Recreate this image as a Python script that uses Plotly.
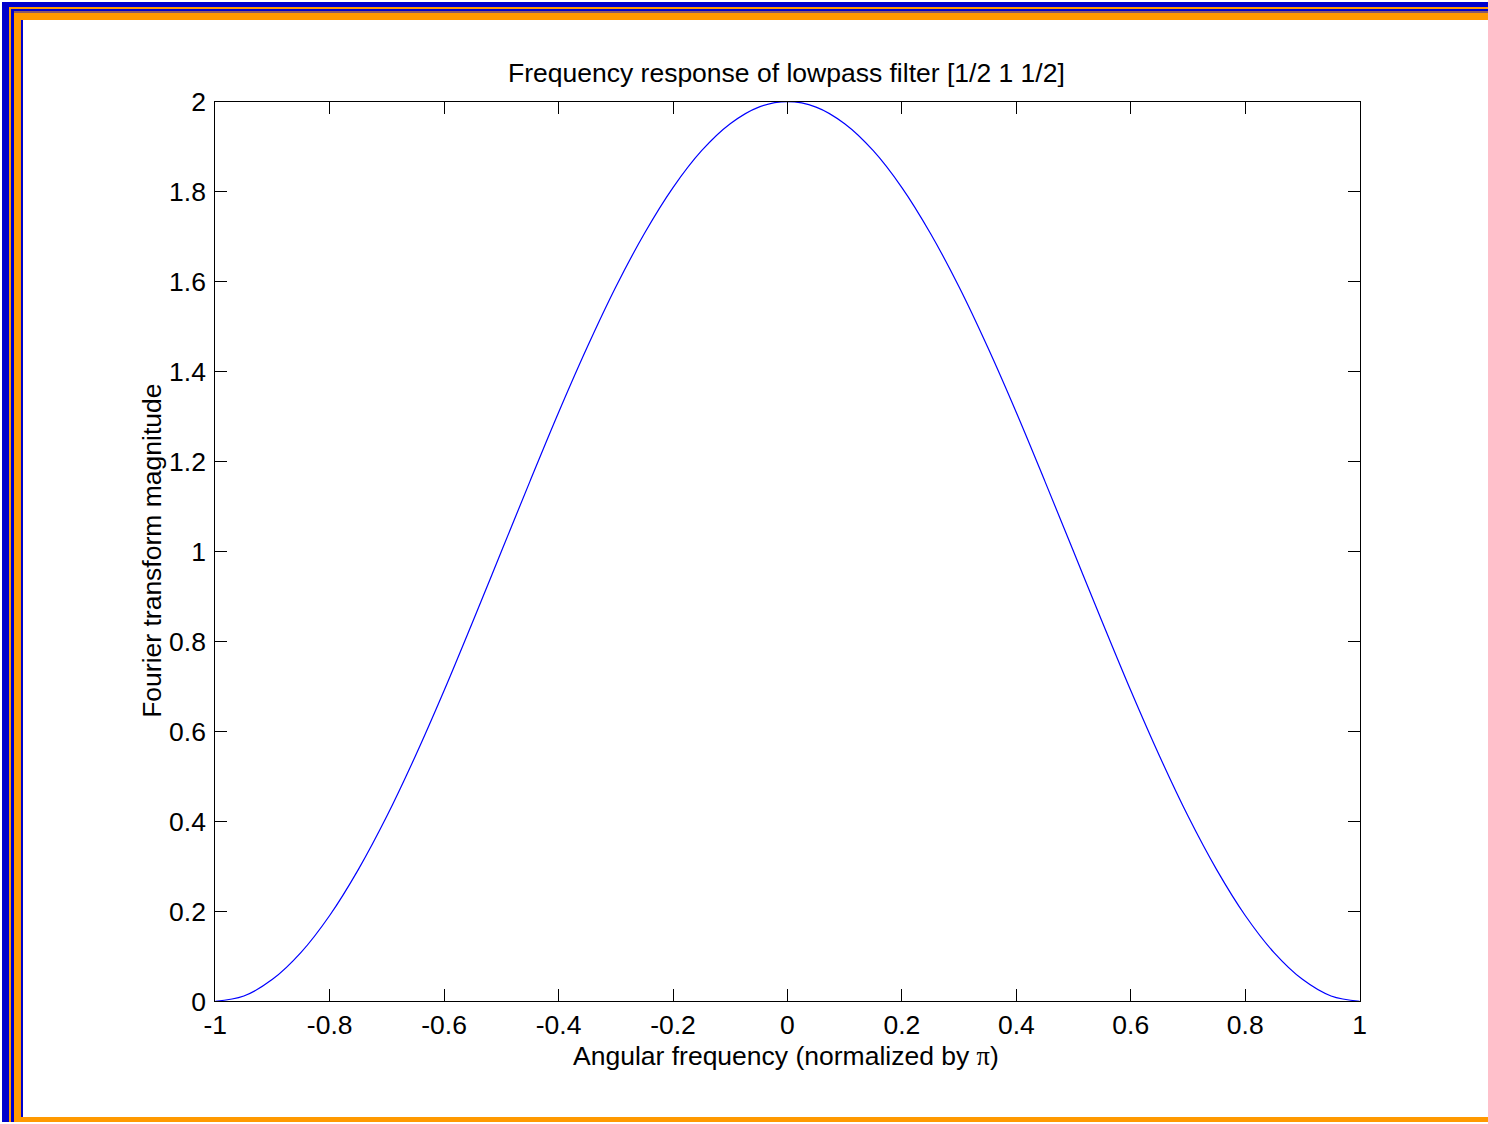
import plotly.graph_objects as go

# Data
freq = [-1.00, -0.95, -0.90, -0.85, -0.80, -0.75, -0.70, -0.65, -0.60, -0.55,
        -0.50, -0.45, -0.40, -0.35, -0.30, -0.25, -0.20, -0.15, -0.10, -0.05,
        0.00, 0.05, 0.10, 0.15, 0.20, 0.25, 0.30, 0.35, 0.40, 0.45,
        0.50, 0.55, 0.60, 0.65, 0.70, 0.75, 0.80, 0.85, 0.90, 0.95, 1.00]
magnitude = [0.000, 0.012, 0.049, 0.109, 0.191, 0.293, 0.412, 0.546, 0.691, 0.844,
             1.000, 1.156, 1.309, 1.454, 1.588, 1.707, 1.809, 1.891, 1.951, 1.988,
             2.000, 1.988, 1.951, 1.891, 1.809, 1.707, 1.588, 1.454, 1.309, 1.156,
             1.000, 0.844, 0.691, 0.546, 0.412, 0.293, 0.191, 0.109, 0.049, 0.012, 0.000]
x_ticks = [-1, -0.8, -0.6, -0.4, -0.2, 0, 0.2, 0.4, 0.6, 0.8, 1]
x_tick_labels = ["-1", "-0.8", "-0.6", "-0.4", "-0.2", "0", "0.2", "0.4", "0.6", "0.8", "1"]
y_ticks = [0, 0.2, 0.4, 0.6, 0.8, 1, 1.2, 1.4, 1.6, 1.8, 2]
y_tick_labels = ["0", "0.2", "0.4", "0.6", "0.8", "1", "1.2", "1.4", "1.6", "1.8", "2"]

W, H = 1488, 1124
FONT = "Liberation Sans, Arial, sans-serif"
FS = 26.5
BLUE = "#0000cc"
ORANGE = "#ff9900"

# The figure is drawn into a box of about 1471x1098 starting at (10, 13) of the page;
# these helpers convert page pixels of the reference into paper fractions.
BOX_X0, BOX_Y0, BOX_W, BOX_H = 10, 13, 1471, 1098


def px_x(x):
    return (x - BOX_X0) / BOX_W


def px_y(y):
    return 1 - (y - BOX_Y0) / BOX_H


fig = go.Figure()
fig.add_trace(go.Scatter(
    x=freq, y=magnitude, mode="lines",
    line=dict(color="#0000ff", width=1.2, shape="spline", smoothing=1.0),
    showlegend=False, hoverinfo="skip"))

axis_common = dict(
    showgrid=False, zeroline=False, showline=True, linecolor="black", linewidth=1,
    mirror="ticks", ticks="inside", ticklen=12, tickcolor="black", tickwidth=1,
    tickfont=dict(family=FONT, size=FS, color="black"),
)

fig.update_layout(
    width=W, height=H, autosize=False,
    margin=dict(l=0, r=0, t=0, b=0, pad=0),
    paper_bgcolor="white", plot_bgcolor="white",
    xaxis=dict(
        range=[-1, 1], domain=[px_x(213.5), px_x(1359.5)],
        tickvals=x_ticks, ticktext=x_tick_labels,
        **axis_common),
    yaxis=dict(
        range=[0, 2], domain=[px_y(1003), px_y(100)],
        tickvals=y_ticks, ticktext=y_tick_labels, ticklabelstandoff=3,
        **axis_common),
)

fig.add_annotation(text="Frequency response of lowpass filter [1/2 1 1/2]",
                   x=px_x(786), y=px_y(71), xref="paper", yref="paper",
                   showarrow=False, xanchor="center", yanchor="middle",
                   font=dict(family=FONT, size=FS, color="black"))
fig.add_annotation(text='Angular frequency (normalized by <span style="font-family:Liberation Serif, Times New Roman, serif">π</span>)',
                   x=px_x(785), y=px_y(1058), xref="paper", yref="paper",
                   showarrow=False, xanchor="center", yanchor="middle",
                   font=dict(family=FONT, size=FS, color="black"))
fig.add_annotation(text="Fourier transform magnitude",
                   x=px_x(150), y=px_y(551), xref="paper", yref="paper",
                   showarrow=False, xanchor="center", yanchor="middle", textangle=-90,
                   font=dict(family=FONT, size=FS, color="black"))

# Decorative frame stripes (reference page pixels)
frame = [
    (0, 0, W, 5, BLUE),
    (0, 0, 7, H, BLUE),
    (7, 5, W, 7, ORANGE),
    (7, 5, 9, H, ORANGE),
    (9, 7, W, 9, BLUE),
    (9, 7, 12, H, BLUE),
    (12, 9, W, 11, "#8a5a6a"),
    (12, 11, W, 18, ORANGE),
    (12, 11, 19, H, ORANGE),
    (19, 18, 21, 1119, BLUE),
    (19, 1119, W, H, ORANGE),
]
for x0, y0, x1, y1, c in frame:
    fig.add_shape(type="rect", xref="paper", yref="paper",
                  x0=px_x(x0), x1=px_x(x1), y0=px_y(y0), y1=px_y(y1),
                  fillcolor=c, line=dict(width=0), layer="above")

fig.write_html("out.html", config={"displayModeBar": False})
